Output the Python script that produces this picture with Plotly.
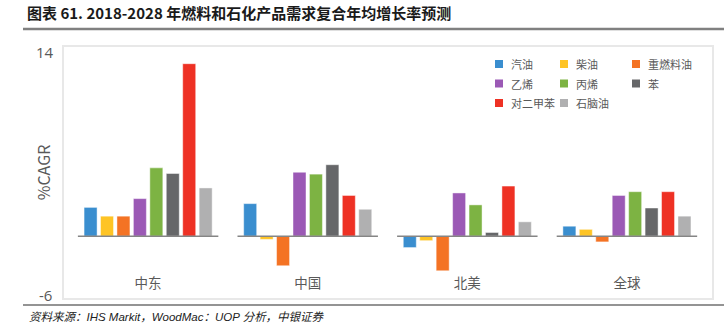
import plotly.graph_objects as go

regions = ["中东", "中国", "北美", "全球"]
series_names = ["汽油", "柴油", "重燃料油", "乙烯", "丙烯", "苯", "对二甲苯", "石脑油"]
gasoline = [2.3, 2.6, -0.9, 0.8]
diesel = [1.6, -0.25, -0.35, 0.55]
fuel_oil = [1.6, -2.35, -2.75, -0.45]
ethylene = [3.0, 5.1, 3.45, 3.25]
propylene = [5.45, 4.95, 2.5, 3.55]
benzene = [5.0, 5.7, 0.3, 2.25]
paraxylene = [13.75, 3.25, 4.0, 3.55]
naphtha = [3.85, 2.15, 1.15, 1.6]
series_values = [gasoline, diesel, fuel_oil, ethylene, propylene, benzene, paraxylene, naphtha]
axis_end_labels = ["14", "-6"]
title_text = "图表 61. 2018-2028 年燃料和石化产品需求复合年均增长率预测"
source_text = "资料来源：IHS Markit，WoodMac：UOP 分析，中银证券"

colors = ["#3a8ecf", "#fec425", "#f47324", "#9b59b5", "#7db343", "#666769", "#ee3124", "#b0b0b1"]

W, H = 725, 333
L, R, T, B = 64, 13, 47, 35
pw, ph = W - L - R, H - T - B

def px_x(x):
    return (x - L) / pw

def px_y(y):
    return 1 - (y - T) / ph

fig = go.Figure()
for name, vals, col in zip(series_names, series_values, colors):
    fig.add_trace(go.Bar(
        x=regions, y=vals, name=name,
        marker=dict(color=col, line=dict(color="rgba(255,255,255,0.45)", width=1)),
        showlegend=False,
    ))

font_fam = "Microsoft YaHei, Noto Sans CJK SC, Open Sans, sans-serif"
fig.update_layout(
    width=W, height=H, margin=dict(l=L, r=R, t=T, b=B),
    paper_bgcolor="white", plot_bgcolor="white",
    barmode="group", bargap=0.176, bargroupgap=0.209,
    font=dict(family=font_fam, color="#595959"),
    showlegend=False,
    title=dict(text=title_text, x=27 / W, xanchor="left", xref="container",
               y=1 - 14 / H, yanchor="middle", yref="container",
               font=dict(size=15, color="#1a1a1a", family="Noto Sans CJK SC, sans-serif", weight="bold")),
    xaxis=dict(range=[-0.527, 3.533], showline=True, mirror=True, linecolor="#e8e8e8", linewidth=2,
               showgrid=False, ticks="", ticklabelposition="inside", ticklabelstandoff=7,
               tickfont=dict(size=13.5, color="#595959")),
    yaxis=dict(range=[-4.92, 15.08], showline=True, mirror=True, linecolor="#e8e8e8", linewidth=2,
               showgrid=False, zeroline=False, showticklabels=False, ticks="",
               title=dict(text="%CAGR", standoff=7, font=dict(size=16, color="#595959"))),
)

# legend: 3 columns x 3 rows, drawn as swatches + labels
col_px = [495, 560, 632]
row_px = [64, 83.5, 103]
sw = 8
for i, (name, col) in enumerate(zip(series_names, colors)):
    cx = col_px[i % 3]
    cy = row_px[i // 3]
    fig.add_shape(type="rect", xref="paper", yref="paper",
                  x0=px_x(cx), x1=px_x(cx + sw), y0=px_y(cy + sw / 2), y1=px_y(cy - sw / 2),
                  fillcolor=col, line=dict(width=0))
    fig.add_annotation(text=name, xref="paper", yref="paper", x=px_x(cx + sw + 6), y=px_y(cy),
                       xanchor="left", yanchor="middle", showarrow=False,
                       font=dict(size=11, color="#595959", family=font_fam))

for i in range(len(regions)):
    fig.add_shape(type="line", xref="x", yref="y", x0=i - 0.44, x1=i + 0.44, y0=0, y1=0,
                  line=dict(color="#858585", width=1.5))

fig.add_shape(type="line", xref="paper", yref="paper", x0=px_x(23), x1=px_x(724), y0=px_y(29), y1=px_y(29),
              line=dict(color="#808080", width=2.5))
fig.add_shape(type="line", xref="paper", yref="paper", x0=px_x(23), x1=px_x(724), y0=px_y(305), y1=px_y(305),
              line=dict(color="#707070", width=1.5))

fig.add_annotation(text=axis_end_labels[0], xref="paper", yref="paper", x=0, y=px_y(52), xanchor="right",
                   yanchor="middle", xshift=-8, showarrow=False,
                   font=dict(size=15, color="#595959", family="Open Sans, sans-serif"))
fig.add_annotation(text=axis_end_labels[1], xref="paper", yref="paper", x=0, y=px_y(295), xanchor="right",
                   yanchor="middle", xshift=-10, showarrow=False,
                   font=dict(size=15, color="#595959", family="Open Sans, sans-serif"))
fig.add_annotation(text=source_text, xref="paper", yref="paper", x=px_x(27), y=px_y(317), xanchor="left",
                   yanchor="middle", showarrow=False,
                   font=dict(size=11.5, color="#222222", style="italic",
                             family="Liberation Sans, Noto Sans CJK SC, sans-serif"))

fig.write_html("out.html")
